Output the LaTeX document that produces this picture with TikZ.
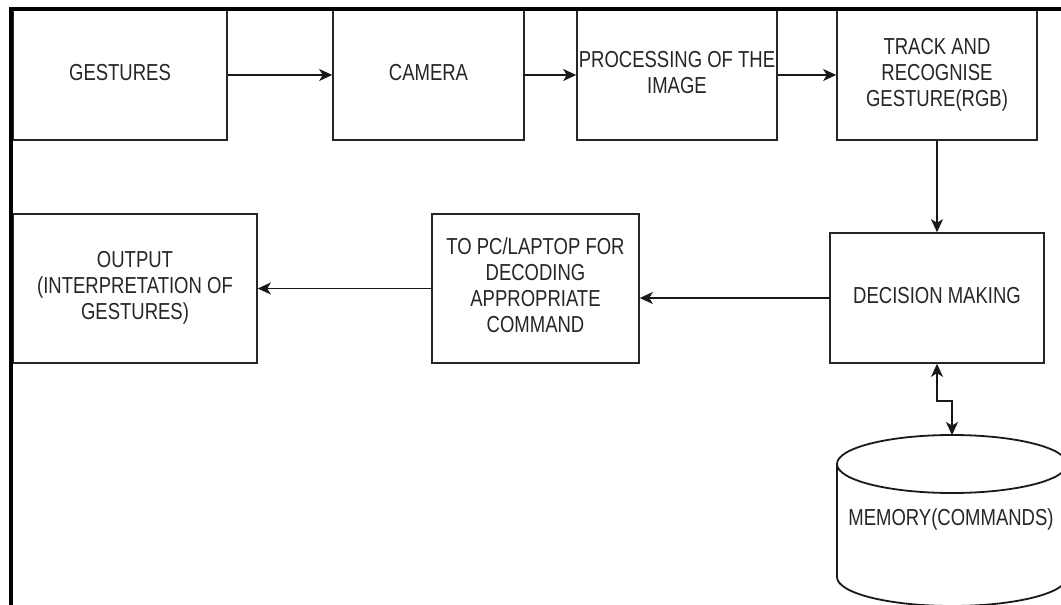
\documentclass[tikz,border=0pt]{standalone}
\usepackage{fontspec}
\setmainfont{Liberation Sans}
\usepackage{graphicx}
\usetikzlibrary{arrows.meta}
\newcommand{\lbl}[1]{\scalebox{1}[1.25]{\fontsize{18.5}{20.8}\selectfont\begin{tabular}{@{}c@{}}#1\end{tabular}}}
\tikzset{
  box/.style={draw=black!85, line width=1.6pt, rectangle, inner sep=0pt, text=black!85, align=center},
  tip/.style={Stealth[length=13pt,width=12pt,inset=3.5pt]},
  conn/.style={draw=black!90, line width=1.5pt, -{Stealth[length=13pt,width=12pt,inset=3.5pt]}},
  biconn/.style={draw=black!90, line width=1.5pt, {Stealth[length=13pt,width=12pt,inset=3.5pt]}-{Stealth[length=13pt,width=12pt,inset=3.5pt]}},
  frame/.style={draw=black, line width=3.2pt},
  drum/.style={draw=black!90, line width=1.8pt}
}
\begin{document}
\begin{tikzpicture}[x=1pt,y=-1pt]
\useasboundingbox (0,0) rectangle (1061,605);
\clip (0,0) rectangle (1061,605);
\fill[white] (0,0) rectangle (1061,605);
% boxes
\node[box, minimum width=214pt, minimum height=130pt] (ges) at (120,75) {\lbl{GESTURES}};
\node[box, minimum width=191pt, minimum height=130pt] (cam) at (428.5,75) {\lbl{CAMERA}};
\node[box, minimum width=200pt, minimum height=130pt] (proc) at (677,75) {\lbl{PROCESSING OF THE\\IMAGE}};
\node[box, minimum width=200pt, minimum height=130pt] (track) at (937,75) {\raisebox{-7pt}{\lbl{TRACK AND\\RECOGNISE\\GESTURE(RGB)}}};
\node[box, minimum width=214pt, minimum height=130pt] (dec) at (937,298) {\lbl{DECISION MAKING}};
\node[box, minimum width=207pt, minimum height=149pt] (pc) at (535.5,288.5) {\lbl{TO PC/LAPTOP FOR\\DECODING\\APPROPRIATE\\COMMAND}};
\node[box, minimum width=244pt, minimum height=149pt] (out) at (135,288.5) {\lbl{OUTPUT\\(INTERPRETATION OF\\GESTURES)}};
% memory drum
\draw[drum, fill=white] (837,464) -- (837,577) arc[start angle=180, end angle=360, x radius=115pt, y radius=29pt] -- (1067,464);
\draw[drum] (952,464) ellipse [x radius=115pt, y radius=29pt];
\coordinate (memtop) at (952,435);
\node[text=black!85, inner sep=0pt] (mem) at (951,520) {\lbl{MEMORY(COMMANDS)}};
% frame
\draw[frame] (11,605) -- (11,9) -- (1061,9);
% connectors
\draw[conn] (ges.east) -- (cam.west);
\draw[conn] (cam.east) -- (proc.west);
\draw[conn] (proc.east) -- (track.west);
\draw[conn] (track.south) -- (dec.north);
\draw[conn] (dec.west) -- (dec.west -| pc.east);
\draw[conn] (pc.west) -- (out.east);
\draw[biconn] (dec.south) -- ++(0,37) -| (memtop);
\end{tikzpicture}
\end{document}
